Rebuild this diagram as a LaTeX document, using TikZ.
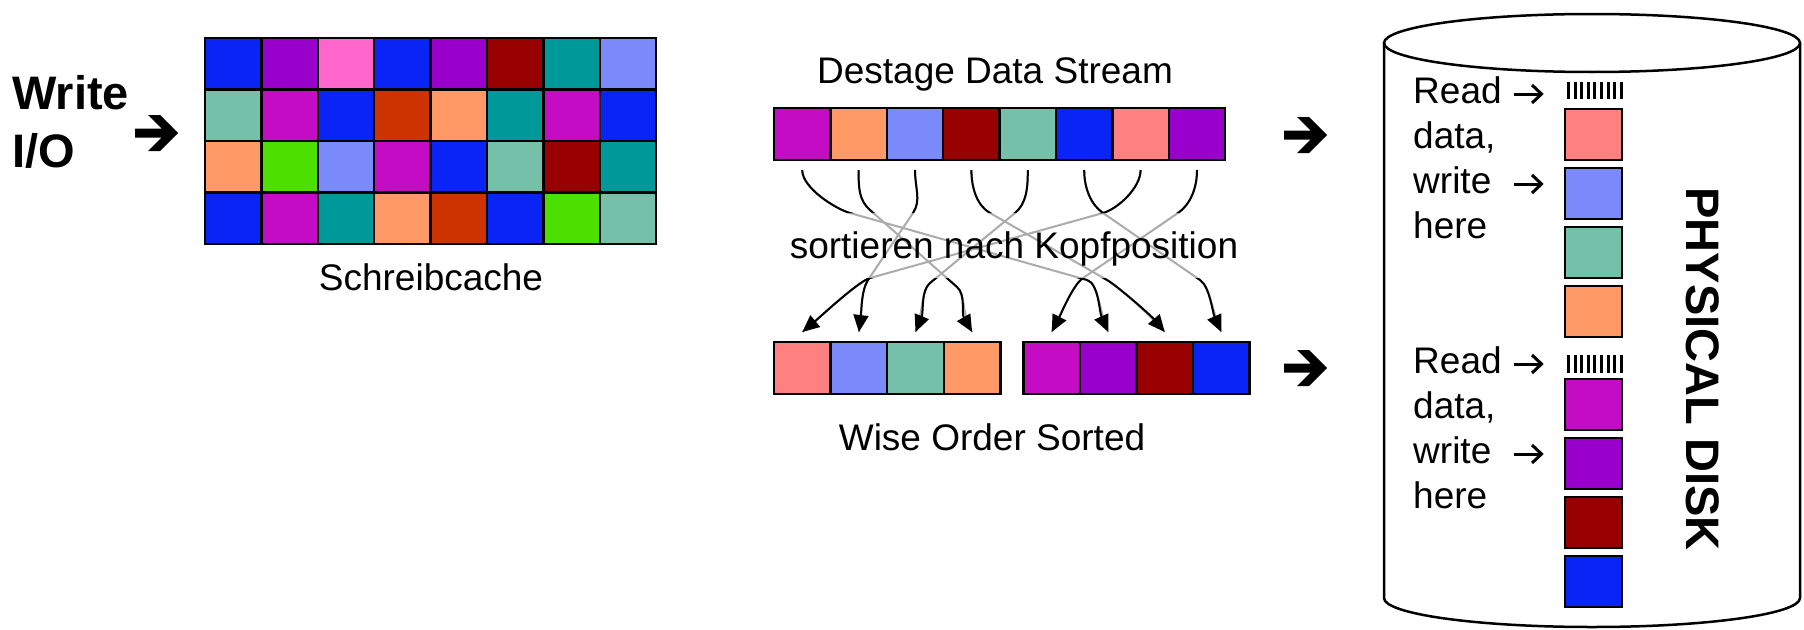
\documentclass[tikz,border=0pt]{standalone}
\usepackage{fontspec}
\setmainfont{Liberation Sans}
\usetikzlibrary{arrows.meta,calc}
\definecolor{cBlue}{RGB}{10,36,245}
\definecolor{cPurple}{RGB}{153,0,204}
\definecolor{cPink}{RGB}{255,102,204}
\definecolor{cDRed}{RGB}{153,0,0}
\definecolor{cTeal}{RGB}{0,153,153}
\definecolor{cLBlue}{RGB}{122,138,250}
\definecolor{cSea}{RGB}{116,192,168}
\definecolor{cMag}{RGB}{196,12,196}
\definecolor{cORed}{RGB}{204,51,0}
\definecolor{cOrange}{RGB}{255,153,102}
\definecolor{cGreen}{RGB}{76,224,0}
\definecolor{cSalmon}{RGB}{255,128,128}
\newcommand\txtA{\fontsize{37}{45}\selectfont}
\newcommand\txtB{\bfseries\fontsize{47}{56}\selectfont}
\begin{document}
\begin{tikzpicture}[x=1pt,y=-1pt,
  cell/.style={draw=black, line width=2.5pt, minimum width=56.4pt, minimum height=51.5pt, inner sep=0pt, outer sep=0pt, anchor=north west},
  dbox/.style={draw=black, line width=2.5pt, minimum width=57pt, minimum height=51pt, inner sep=0pt, outer sep=0pt, anchor=north west},
  lbl/.style={font=\txtA, inner sep=0pt, anchor=base},
  dtxt/.style={font=\txtA, inner sep=0pt, anchor=base west},
  greyline/.style={draw=black!33, line width=2pt},
  blackline/.style={draw=black, line width=2pt, -{Triangle[length=17pt,width=15pt]}},
  thinarr/.style={draw=black, line width=3pt, line join=miter},
  bigarrow/.pic={\fill[black] (-43,4.5) -- (-16.5,4.5) -- (-30,18) -- (-18,18) -- (0,0) -- (-18,-18) -- (-30,-18) -- (-16.5,-4.5) -- (-43,-4.5) -- cycle;},
  smallarrow/.pic={\draw[thinarr] (-29,0) -- (-1.5,0); \draw[thinarr] (-11,-9) -- (-1.5,0) -- (-11,9);}
]
\useasboundingbox[fill=white] (0,0) rectangle (1804,629);

% Write I/O
\node[font=\txtB, inner sep=0pt, anchor=base west] (w1) at (12,109) {Write};
\node[font=\txtB, inner sep=0pt, anchor=base west] (w2) at (12,167) {I/O};
\pic at (178,133) {bigarrow};

% cache grid
\foreach \c [count=\i from 0] in {cBlue,cPurple,cPink,cBlue,cPurple,cDRed,cTeal,cLBlue}
  \node[cell,fill=\c] (g0\i) at ({205+56.4*\i},38) {};
\foreach \c [count=\i from 0] in {cSea,cMag,cBlue,cORed,cOrange,cTeal,cMag,cBlue}
  \node[cell,fill=\c] (g1\i) at ({205+56.4*\i},89.5) {};
\foreach \c [count=\i from 0] in {cOrange,cGreen,cLBlue,cMag,cBlue,cSea,cDRed,cTeal}
  \node[cell,fill=\c] (g2\i) at ({205+56.4*\i},141) {};
\foreach \c [count=\i from 0] in {cBlue,cMag,cTeal,cOrange,cORed,cBlue,cGreen,cSea}
  \node[cell,fill=\c] (g3\i) at ({205+56.4*\i},192.5) {};
\node[lbl] (cachelbl) at (431,290) {Schreibcache};

% destage stream
\node[lbl] (destlbl) at (995,83) {Destage Data Stream};
\foreach \c [count=\i] in {cMag,cOrange,cLBlue,cDRed,cSea,cBlue,cSalmon,cPurple}
  \node[cell,fill=\c,minimum height=52pt] (s\i) at ({774+56.4*(\i-1)},108) {};

% sorted rows
\foreach \c [count=\i] in {cSalmon,cLBlue,cSea,cOrange}
  \node[cell,fill=\c,minimum width=56.6pt,minimum height=52pt] (L\i) at ({774+56.6*(\i-1)},342) {};
\foreach \c [count=\i] in {cMag,cPurple,cDRed,cBlue}
  \node[cell,fill=\c,minimum width=56.5pt,minimum height=52pt] (R\i) at ({1023.5+56.5*(\i-1)},342) {};
\node[lbl] (wiselbl) at (992,450) {Wise Order Sorted};

% sorting curves: source/target/bend1/bend2/arrival angle
\def\curvelist{1/R2/850/213/1087/280/114,
  2/L4/870/210/957/287/120,
  3/L2/913/213/868/280/83,
  4/R3/990/213/1107/280/130,
  5/L3/1015/213/930/283/68,
  6/R4/1103/213/1200/280/114,
  7/L1/1103/213/870/278/40,
  8/R1/1178/213/1083/278/63}
\foreach \s/\t/\pa/\pb/\qa/\qb/\th in \curvelist {
  \coordinate (st) at ([yshift=-10pt]s\s.south);
  \coordinate (en) at ([yshift=10pt]\t.north);
  \coordinate (pp) at (\pa,\pb);
  \coordinate (qq) at (\qa,\qb);
  \draw[greyline] (st) .. controls ([yshift=-18pt]st) and ($(pp)!-15pt!(qq)$) .. (pp) -- (qq) .. controls ($(qq)!-12pt!(pp)$) and ($(en)+({22*cos(\th)},{-22*sin(\th)})$) .. (en);
}
\begin{scope}
  \clip (0,0) rectangle (1804,213) (0,278) rectangle (1804,629);
  \foreach \s/\t/\pa/\pb/\qa/\qb/\th in \curvelist {
    \coordinate (st) at ([yshift=-10pt]s\s.south);
    \coordinate (en) at ([yshift=10pt]\t.north);
    \coordinate (pp) at (\pa,\pb);
    \coordinate (qq) at (\qa,\qb);
    \draw[blackline] (st) .. controls ([yshift=-18pt]st) and ($(pp)!-15pt!(qq)$) .. (pp) -- (qq) .. controls ($(qq)!-12pt!(pp)$) and ($(en)+({22*cos(\th)},{-22*sin(\th)})$) .. (en);
  }
\end{scope}
\node[lbl] (sortlbl) at (1014,258) {sortieren nach Kopfposition};

\pic at (1327,135) {bigarrow};
\pic at (1327,368) {bigarrow};

% physical disk
\draw[line width=2.5pt] (1592,43) ellipse [x radius=208pt, y radius=29pt];
\draw[line width=2.5pt] (1384,43) -- (1384,598) arc[start angle=180, end angle=360, x radius=208pt, y radius=29pt] -- (1800,43);

\foreach \k in {0,...,8} \fill ({1567+6.6*\k},82) rectangle +(3,17);
\foreach \k in {0,...,8} \fill ({1567+6.6*\k},355) rectangle +(3,18);

\foreach \c [count=\i from 0] in {cSalmon,cLBlue,cSea,cOrange}
  \node[dbox,fill=\c] (d1\i) at (1565,{109+59*\i}) {};
\foreach \c [count=\i from 0] in {cMag,cPurple,cDRed,cBlue}
  \node[dbox,fill=\c] (d2\i) at (1565,{379+59*\i}) {};

\node[dtxt] (r1) at (1413,103) {Read};
\node[dtxt] (r2) at (1413,148) {data,};
\node[dtxt] (r3) at (1413,193) {write};
\node[dtxt] (r4) at (1413,238) {here};
\pic at (1543,94) {smallarrow};
\pic at (1543,184) {smallarrow};
\node[dtxt] (q1) at (1413,373) {Read};
\node[dtxt] (q2) at (1413,418) {data,};
\node[dtxt] (q3) at (1413,463) {write};
\node[dtxt] (q4) at (1413,508) {here};
\pic at (1543,364) {smallarrow};
\pic at (1543,454) {smallarrow};

\node[font=\txtB, inner sep=0pt, rotate=-90] (pd) at (1703,369) {PHYSICAL DISK};
\end{tikzpicture}
\end{document}
